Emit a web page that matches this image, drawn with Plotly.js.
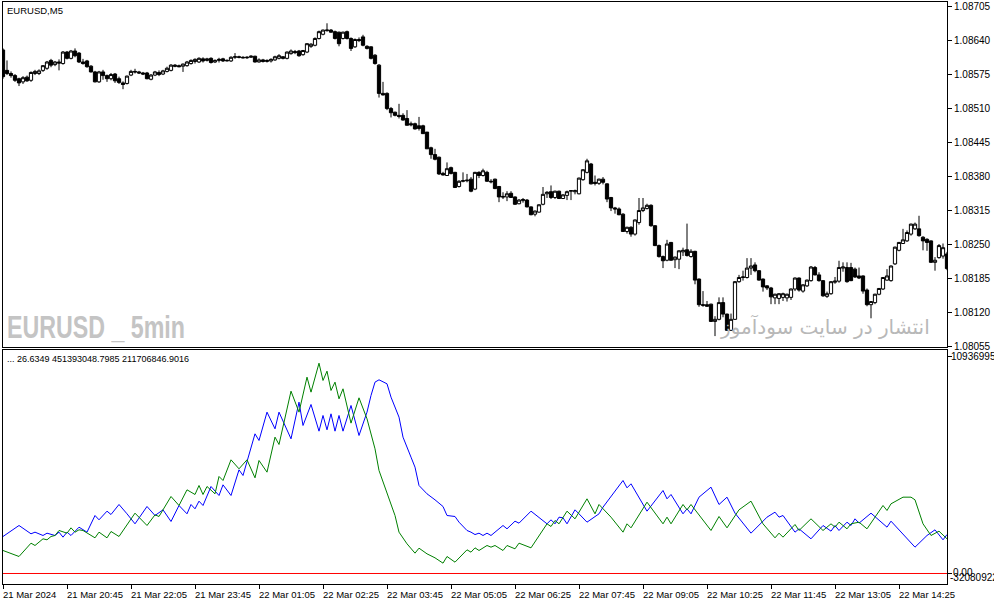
<!DOCTYPE html>
<html>
<head>
<meta charset="utf-8">
<script src="https://cdn.plot.ly/plotly-3.0.1.min.js"></script>
<style>
html,body{margin:0;padding:0;background:#fff;}
#chart{width:994px;height:605px;}
</style>
</head>
<body>
<div id="chart"></div>
<script>
// ---- data (bar index 0..236, 5-minute bars) ----
const openP = [1.08621,1.08582,1.08576,1.08572,1.08566,1.08560,1.08569,1.08563,1.08576,1.08576,
1.08582,1.08586,1.08601,1.08593,1.08598,1.08595,1.08617,1.08605,1.08619,1.08615,
1.08598,1.08600,1.08590,1.08579,1.08560,1.08579,1.08572,1.08566,1.08575,1.08566,
1.08558,1.08557,1.08573,1.08580,1.08579,1.08577,1.08577,1.08565,1.08573,1.08578,
1.08575,1.08580,1.08582,1.08592,1.08591,1.08590,1.08591,1.08595,1.08599,1.08598,
1.08604,1.08601,1.08605,1.08598,1.08601,1.08604,1.08600,1.08600,1.08607,1.08608,
1.08607,1.08606,1.08607,1.08609,1.08598,1.08602,1.08599,1.08600,1.08602,1.08605,
1.08608,1.08605,1.08614,1.08618,1.08619,1.08612,1.08617,1.08628,1.08630,1.08643,
1.08651,1.08658,1.08659,1.08656,1.08655,1.08643,1.08656,1.08643,1.08627,1.08641,
1.08646,1.08628,1.08627,1.08611,1.08592,1.08538,1.08538,1.08509,1.08502,1.08496,
1.08496,1.08490,1.08480,1.08480,1.08476,1.08476,1.08464,1.08434,1.08421,1.08416,
1.08385,1.08381,1.08396,1.08387,1.08360,1.08370,1.08371,1.08374,1.08355,1.08387,
1.08381,1.08387,1.08370,1.08374,1.08360,1.08341,1.08340,1.08347,1.08340,1.08327,
1.08333,1.08334,1.08321,1.08307,1.08311,1.08326,1.08346,1.08350,1.08339,1.08351,
1.08337,1.08343,1.08351,1.08350,1.08346,1.08373,1.08387,1.08403,1.08368,1.08366,
1.08374,1.08365,1.08339,1.08319,1.08317,1.08307,1.08274,1.08282,1.08269,1.08291,
1.08314,1.08318,1.08324,1.08285,1.08247,1.08226,1.08219,1.08253,1.08220,1.08221,
1.08235,1.08239,1.08226,1.08236,1.08183,1.08134,1.08134,1.08135,1.08102,1.08106,
1.08138,1.08116,1.08085,1.08106,1.08178,1.08186,1.08186,1.08204,1.08210,1.08199,
1.08183,1.08170,1.08166,1.08147,1.08146,1.08148,1.08147,1.08148,1.08164,1.08185,
1.08160,1.08170,1.08180,1.08205,1.08191,1.08180,1.08150,1.08155,1.08177,1.08179,
1.08204,1.08205,1.08205,1.08202,1.08189,1.08189,1.08162,1.08134,1.08138,1.08154,
1.08164,1.08181,1.08180,1.08212,1.08238,1.08251,1.08256,1.08269,1.08279,1.08279,
1.08263,1.08259,1.08256,1.08215,1.08224,1.08227,1.08231];
const highP = [1.08624,1.08601,1.08580,1.08575,1.08568,1.08571,1.08572,1.08580,1.08583,1.08584,
1.08592,1.08600,1.08604,1.08600,1.08603,1.08619,1.08619,1.08621,1.08624,1.08617,
1.08604,1.08602,1.08592,1.08581,1.08581,1.08583,1.08574,1.08577,1.08577,1.08570,
1.08561,1.08572,1.08583,1.08585,1.08581,1.08579,1.08579,1.08575,1.08581,1.08582,
1.08583,1.08589,1.08594,1.08594,1.08593,1.08595,1.08600,1.08603,1.08605,1.08607,
1.08607,1.08606,1.08607,1.08603,1.08606,1.08606,1.08603,1.08609,1.08615,1.08610,
1.08609,1.08609,1.08611,1.08610,1.08605,1.08604,1.08603,1.08605,1.08610,1.08613,
1.08609,1.08618,1.08622,1.08621,1.08621,1.08621,1.08634,1.08634,1.08645,1.08658,
1.08660,1.08672,1.08661,1.08658,1.08656,1.08656,1.08658,1.08645,1.08643,1.08645,
1.08650,1.08630,1.08628,1.08613,1.08594,1.08560,1.08540,1.08512,1.08503,1.08518,
1.08500,1.08506,1.08484,1.08482,1.08493,1.08478,1.08464,1.08436,1.08432,1.08417,
1.08388,1.08406,1.08398,1.08388,1.08372,1.08387,1.08384,1.08378,1.08388,1.08389,
1.08394,1.08390,1.08374,1.08375,1.08361,1.08349,1.08351,1.08351,1.08341,1.08336,
1.08338,1.08336,1.08322,1.08314,1.08326,1.08359,1.08351,1.08362,1.08352,1.08352,
1.08345,1.08352,1.08353,1.08354,1.08377,1.08393,1.08413,1.08405,1.08381,1.08375,
1.08378,1.08366,1.08340,1.08321,1.08320,1.08309,1.08283,1.08284,1.08297,1.08338,
1.08338,1.08327,1.08326,1.08286,1.08249,1.08228,1.08258,1.08254,1.08226,1.08238,
1.08243,1.08289,1.08240,1.08237,1.08184,1.08160,1.08141,1.08136,1.08112,1.08148,
1.08148,1.08117,1.08117,1.08179,1.08191,1.08199,1.08223,1.08223,1.08215,1.08200,
1.08184,1.08171,1.08168,1.08155,1.08156,1.08157,1.08155,1.08165,1.08186,1.08186,
1.08173,1.08182,1.08208,1.08208,1.08196,1.08181,1.08159,1.08179,1.08187,1.08218,
1.08215,1.08215,1.08214,1.08205,1.08205,1.08190,1.08165,1.08141,1.08155,1.08166,
1.08187,1.08202,1.08209,1.08245,1.08254,1.08279,1.08276,1.08289,1.08291,1.08304,
1.08265,1.08261,1.08257,1.08225,1.08250,1.08251,1.08235];
const lowP = [1.08566,1.08573,1.08568,1.08560,1.08552,1.08556,1.08560,1.08560,1.08573,1.08573,
1.08579,1.08583,1.08588,1.08590,1.08582,1.08593,1.08603,1.08603,1.08607,1.08596,
1.08593,1.08587,1.08578,1.08559,1.08558,1.08564,1.08560,1.08563,1.08558,1.08556,
1.08546,1.08555,1.08571,1.08576,1.08575,1.08573,1.08565,1.08563,1.08571,1.08571,
1.08573,1.08578,1.08580,1.08588,1.08588,1.08579,1.08589,1.08593,1.08595,1.08596,
1.08597,1.08599,1.08595,1.08596,1.08597,1.08598,1.08599,1.08598,1.08604,1.08605,
1.08605,1.08604,1.08606,1.08597,1.08597,1.08597,1.08597,1.08597,1.08600,1.08603,
1.08603,1.08603,1.08612,1.08613,1.08608,1.08610,1.08615,1.08625,1.08628,1.08641,
1.08649,1.08656,1.08654,1.08641,1.08628,1.08641,1.08641,1.08619,1.08625,1.08636,
1.08628,1.08622,1.08603,1.08593,1.08530,1.08534,1.08506,1.08492,1.08494,1.08490,
1.08486,1.08477,1.08475,1.08469,1.08467,1.08461,1.08432,1.08413,1.08410,1.08382,
1.08381,1.08380,1.08383,1.08358,1.08358,1.08368,1.08368,1.08349,1.08353,1.08376,
1.08379,1.08369,1.08366,1.08355,1.08330,1.08336,1.08332,1.08338,1.08325,1.08326,
1.08329,1.08320,1.08305,1.08303,1.08310,1.08324,1.08338,1.08336,1.08336,1.08336,
1.08336,1.08334,1.08334,1.08345,1.08345,1.08371,1.08385,1.08364,1.08362,1.08363,
1.08364,1.08330,1.08313,1.08308,1.08305,1.08273,1.08270,1.08264,1.08266,1.08287,
1.08311,1.08316,1.08283,1.08246,1.08224,1.08204,1.08217,1.08218,1.08204,1.08202,
1.08227,1.08226,1.08224,1.08173,1.08130,1.08130,1.08130,1.08101,1.08074,1.08104,
1.08110,1.08084,1.08084,1.08105,1.08176,1.08180,1.08184,1.08191,1.08196,1.08180,
1.08159,1.08162,1.08135,1.08135,1.08135,1.08141,1.08140,1.08143,1.08160,1.08159,
1.08157,1.08168,1.08178,1.08190,1.08178,1.08149,1.08147,1.08153,1.08174,1.08176,
1.08197,1.08176,1.08179,1.08185,1.08183,1.08155,1.08131,1.08108,1.08135,1.08152,
1.08162,1.08180,1.08178,1.08210,1.08236,1.08250,1.08254,1.08266,1.08277,1.08264,
1.08238,1.08237,1.08214,1.08199,1.08222,1.08222,1.08200];
const closeP = [1.08570,1.08576,1.08572,1.08563,1.08558,1.08568,1.08562,1.08578,1.08580,1.08581,
1.08591,1.08598,1.08592,1.08598,1.08596,1.08617,1.08605,1.08619,1.08610,1.08598,
1.08595,1.08589,1.08579,1.08560,1.08579,1.08572,1.08566,1.08574,1.08562,1.08559,
1.08555,1.08571,1.08580,1.08579,1.08577,1.08575,1.08566,1.08573,1.08579,1.08574,
1.08581,1.08586,1.08592,1.08590,1.08589,1.08594,1.08598,1.08601,1.08603,1.08605,
1.08600,1.08604,1.08597,1.08601,1.08603,1.08600,1.08601,1.08607,1.08608,1.08607,
1.08606,1.08607,1.08609,1.08598,1.08602,1.08599,1.08601,1.08603,1.08608,1.08610,
1.08605,1.08617,1.08619,1.08616,1.08610,1.08620,1.08633,1.08632,1.08643,1.08656,
1.08659,1.08659,1.08655,1.08643,1.08633,1.08655,1.08643,1.08624,1.08641,1.08639,
1.08630,1.08624,1.08605,1.08595,1.08538,1.08535,1.08509,1.08501,1.08496,1.08494,
1.08487,1.08477,1.08478,1.08470,1.08471,1.08461,1.08432,1.08421,1.08412,1.08384,
1.08382,1.08394,1.08385,1.08358,1.08370,1.08371,1.08372,1.08351,1.08387,1.08381,
1.08390,1.08370,1.08369,1.08356,1.08340,1.08340,1.08346,1.08339,1.08326,1.08334,
1.08335,1.08321,1.08306,1.08313,1.08325,1.08345,1.08349,1.08339,1.08351,1.08337,
1.08344,1.08350,1.08352,1.08352,1.08376,1.08392,1.08409,1.08365,1.08366,1.08374,
1.08368,1.08336,1.08319,1.08317,1.08306,1.08274,1.08282,1.08269,1.08296,1.08314,
1.08319,1.08324,1.08285,1.08247,1.08226,1.08218,1.08250,1.08219,1.08225,1.08237,
1.08238,1.08228,1.08236,1.08181,1.08134,1.08133,1.08131,1.08102,1.08106,1.08138,
1.08116,1.08085,1.08106,1.08178,1.08186,1.08187,1.08204,1.08208,1.08199,1.08181,
1.08168,1.08166,1.08149,1.08154,1.08155,1.08155,1.08154,1.08164,1.08185,1.08162,
1.08172,1.08181,1.08206,1.08191,1.08180,1.08151,1.08155,1.08178,1.08179,1.08205,
1.08206,1.08178,1.08180,1.08187,1.08185,1.08160,1.08134,1.08140,1.08154,1.08165,
1.08186,1.08189,1.08208,1.08244,1.08253,1.08258,1.08272,1.08288,1.08288,1.08266,
1.08256,1.08253,1.08215,1.08219,1.08247,1.08243,1.08203];

// indicator (values in millions), vertices read at bar indices
const blueBars = [0,4,7,8,10,11,13,14,15,16,17,19,21,23,24,26,27,29,31,33,36,38,40,42,44,46,47,48,49,50,52,54,55,57,59,60,63,64,66,68,69,72,74,75,77,79,80,81,82,83,84,85,87,89,91,92,93,94,96,97,99,100,102,103,104,106,108,110,111,113,114,116,117,118,119,120,121,122,125,126,128,129,132,136,137,138,139,140,141,143,144,146,149,150,155,156,157,161,165,166,167,170,171,172,174,177,179,181,183,187,191,193,194,195,198,199,202,205,207,208,209,211,212,213,214,217,221,222,228,231,233,235,236];
const blueVals = [18.65,24.19,20.0,20.83,19.15,20.33,19.15,20.83,18.31,20.83,19.15,23.35,20.83,29.23,27.05,31.41,29.73,34.77,30.07,25.03,33.77,29.23,32.09,26.21,34.27,30.07,34.77,32.59,36.45,34.27,43.85,39.31,44.69,39.31,52.25,49.39,70.39,67.03,81.31,72.91,81.31,67.87,86.35,74.59,85.17,71.73,79.63,72.41,80.47,71.73,79.63,71.73,84.67,69.55,81.31,89.71,96.43,97.61,95.59,88.87,78.79,68.71,58.63,53.59,44.35,40.15,37.13,33.77,29.23,28.73,25.87,21.67,20.83,19.63,20.33,19.15,20.33,19.15,24.19,22.51,26.37,25.37,31.41,25.03,27.05,25.03,28.39,28.05,25.03,32.09,30.07,25.87,30.07,33.43,46.87,43.17,45.19,31.41,41.83,37.63,39.81,30.07,32.59,30.07,38.47,43.51,34.77,38.47,30.41,20.33,28.39,30.91,28.39,29.23,20.83,22.51,17.47,24.19,21.33,24.19,21.67,25.87,24.19,27.55,25.37,30.41,23.35,26.37,13.27,19.15,22.01,16.97,19.63];
const greenBars = [0,2,4,7,8,10,11,12,13,14,16,17,18,19,20,23,24,26,27,29,33,36,38,39,42,44,46,48,49,50,51,53,54,55,57,59,61,63,64,66,68,69,72,74,76,77,79,80,81,82,83,84,85,87,89,91,93,94,96,98,99,101,103,104,106,108,110,111,113,114,116,117,118,119,121,122,123,125,126,128,129,132,136,137,138,139,141,143,146,148,149,152,155,156,157,161,165,166,167,170,171,172,177,179,181,184,187,190,193,194,195,198,199,202,205,207,208,209,211,212,214,216,220,221,222,225,227,228,230,232,234,236];
const greenVals = [11.59,10.25,8.57,15.29,14.11,17.47,16.97,18.65,19.15,21.67,20.33,23.01,20.83,22.01,21.67,17.97,20.83,17.97,21.17,18.65,30.41,24.19,29.57,28.73,38.81,34.27,42.17,39.81,44.35,39.81,43.85,40.15,48.89,46.87,57.29,52.75,57.29,48.21,56.95,51.07,68.71,65.01,91.89,81.31,98.95,91.39,106.0,97.27,101.97,92.23,96.43,88.03,93.07,75.77,88.53,77.95,62.83,51.91,40.15,29.23,20.83,14.95,10.25,12.77,9.91,7.89,5.21,8.57,5.71,7.89,11.93,10.75,12.93,11.59,14.11,13.27,14.11,11.59,14.11,12.43,15.29,12.93,25.03,23.69,26.71,25.03,31.41,27.55,37.63,30.07,34.77,28.39,20.83,25.03,23.01,35.95,25.03,28.39,25.03,34.77,32.09,34.77,21.67,28.73,23.01,32.09,36.45,25.03,17.97,20.33,18.31,24.69,21.67,27.55,21.67,25.03,23.35,25.87,22.51,25.03,25.87,22.51,34.27,31.75,35.11,38.47,38.47,37.13,25.03,19.15,21.33,17.47];

const priceTicks = [1.08055,1.08120,1.08185,1.08250,1.08315,1.08380,1.08445,1.08510,1.08575,1.08640,1.08705];
const timeTickBars = [0,16,32,48,64,80,96,112,128,144,160,176,192,208,224];
const timeLabels = ["21 Mar 2024","21 Mar 20:45","21 Mar 22:05","21 Mar 23:45","22 Mar 01:05","22 Mar 02:25","22 Mar 03:45","22 Mar 05:05","22 Mar 06:25","22 Mar 07:45","22 Mar 09:05","22 Mar 10:25","22 Mar 11:45","22 Mar 13:05","22 Mar 14:25"];
const indTopLabel = "109369953";
const indTopValue = 109.37;
const legendText = "... 26.6349 451393048.7985 211706846.9016";
const watermark = "EURUSD _ 5min";

const barIdx = closeP.map((_, i) => i);
const F = "Liberation Sans, Arial, sans-serif";

const traces = [
  {
    type: 'candlestick', x: barIdx, open: openP, high: highP, low: lowP, close: closeP,
    xaxis: 'x', yaxis: 'y',
    increasing: {line: {color: '#000000', width: 1}, fillcolor: '#ffffff'},
    decreasing: {line: {color: '#000000', width: 1}, fillcolor: '#000000'},
    whiskerwidth: 0, hoverinfo: 'skip'
  },
  {
    type: 'scatter', mode: 'lines', x: blueBars, y: blueVals, xaxis: 'x2', yaxis: 'y2',
    line: {color: '#0000ff', width: 1}, hoverinfo: 'skip'
  },
  {
    type: 'scatter', mode: 'lines', x: greenBars, y: greenVals, xaxis: 'x2', yaxis: 'y2',
    line: {color: '#008000', width: 1}, hoverinfo: 'skip'
  }
];

const annotations = [];
timeTickBars.forEach((b, k) => {
  annotations.push({x: b, xref: 'x2', y: 0, yref: 'paper', yanchor: 'middle', yshift: -10,
    xanchor: 'left', xshift: -2, text: timeLabels[k], showarrow: false,
    font: {family: F, size: 9.5, color: '#000'}});
});
annotations.push({x: 0, xref: 'paper', y: 0.9854, yref: 'paper', xanchor: 'left', yanchor: 'middle',
  xshift: 2, text: 'EURUSD,M5', showarrow: false, font: {family: F, size: 9.5, color: '#000'}});
annotations.push({x: 0, xref: 'paper', y: 0.3866, yref: 'paper', xanchor: 'left', yanchor: 'middle',
  xshift: 2, text: legendText, showarrow: false, font: {family: F, size: 9, color: '#000'}});
annotations.push({x: 1, xref: 'paper', y: indTopValue, yref: 'y2', xanchor: 'left', yanchor: 'middle',
  xshift: 2, text: indTopLabel, showarrow: false, font: {family: F, size: 10, color: '#000'}});
annotations.push({x: 1, xref: 'paper', y: 0, yref: 'y2', xanchor: 'left', yanchor: 'middle',
  xshift: 1, yshift: -4, text: '-32080922', showarrow: false, font: {family: F, size: 10, color: '#000'}});
annotations.push({x: 1, xref: 'paper', y: 0, yref: 'y2', xanchor: 'left', yanchor: 'middle',
  xshift: 4, yshift: 1, text: '0.00', showarrow: false, font: {family: F, size: 10, color: '#000'}});
annotations.push({x: 0.0042, xref: 'paper', y: 0.4416, yref: 'paper', xanchor: 'left', yanchor: 'middle',
  text: watermark, showarrow: false,
  font: {family: 'Liberation Sans, Arial, sans-serif', size: 32, weight: 'bold', color: '#c4c4c4'}});
annotations.push({x: 0.984, xref: 'paper', y: 0.4416, yref: 'paper', xanchor: 'right', yanchor: 'middle',
  text: 'انتشار در سایت سودآموز', showarrow: false,
  font: {family: 'DejaVu Sans, sans-serif', size: 20, color: '#b8b8b8'}});

const axLine = {showline: true, mirror: true, linecolor: '#000', linewidth: 1, showgrid: false, zeroline: false, fixedrange: true};

const layout = {
  width: 994, height: 605,
  margin: {l: 3, r: 47, t: 2, b: 21, pad: 0},
  paper_bgcolor: '#ffffff', plot_bgcolor: '#ffffff',
  showlegend: false,
  boxgap: 0.15, boxgroupgap: 0.05,
  xaxis: Object.assign({}, axLine, {domain: [0, 1], anchor: 'y', range: [0, 236], showticklabels: false, ticks: '', rangeslider: {visible: false}}),
  yaxis: Object.assign({}, axLine, {domain: [0.4072, 1], anchor: 'x', side: 'right', range: [1.080531, 1.087127],
    tickvals: priceTicks, ticktext: priceTicks.map(v => v.toFixed(5)), ticks: 'outside', ticklen: 4, tickcolor: '#000',
    tickfont: {family: F, size: 10, color: '#000'}}),
  xaxis2: Object.assign({}, axLine, {domain: [0, 1], anchor: 'y2', range: [0, 236], tickvals: timeTickBars,
    ticks: 'outside', ticklen: 4, tickcolor: '#000', showticklabels: false, rangeslider: {visible: false}}),
  yaxis2: Object.assign({}, axLine, {domain: [0, 0.4021], anchor: 'x2', side: 'right', range: [-5.292, 112.64],
    tickvals: [indTopValue, 0], ticks: 'outside', ticklen: 4, tickcolor: '#000', showticklabels: false}),
  shapes: [{type: 'line', xref: 'paper', x0: 0, x1: 1, yref: 'y2', y0: 0, y1: 0, line: {color: '#ff0000', width: 1}}],
  annotations: annotations
};

const gd = document.getElementById('chart');
Plotly.newPlot(gd, traces, layout, {staticPlot: true, displayModeBar: false}).then(() => {
  // condense the watermark text to the narrow width of the original
  gd.querySelectorAll('text.annotation-text').forEach(t => {
    if (t.textContent === watermark) {
      t.setAttribute('textLength', '178');
      t.setAttribute('lengthAdjust', 'spacingAndGlyphs');
      const r = t.getBoundingClientRect();
      const prev = t.getAttribute('transform') || '';
      t.setAttribute('transform', (prev + ' translate(' + (7 - r.left) + ',0)').trim());
    }
  });
});
</script>
</body>
</html>
